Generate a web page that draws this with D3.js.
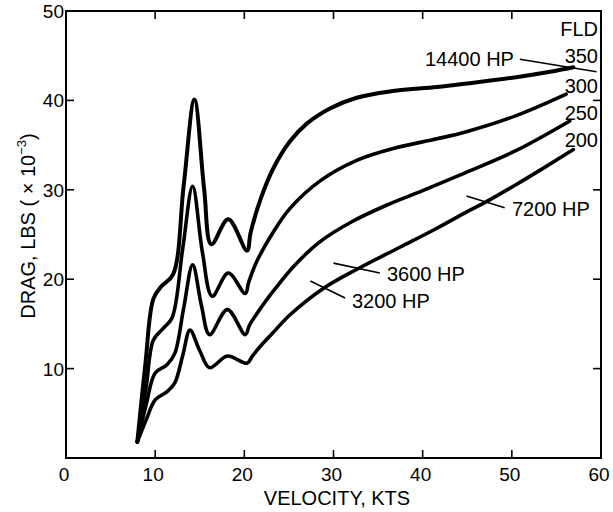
<!DOCTYPE html>
<html>
<head>
<meta charset="utf-8">
<script src="https://cdn.jsdelivr.net/npm/d3@7"></script>
<style>
  html, body { margin: 0; padding: 0; background: #fff; }
  svg { display: block; font-family: "Liberation Sans", Arial, Helvetica, sans-serif; }
</style>
</head>
<body>
<svg id="chart" width="613" height="512"></svg>
<script>
// ---- data (velocity kts, drag lbs x 10^-3) ----
const xTicks = [0, 10, 20, 30, 40, 50, 60];
const yTicks = [10, 20, 30, 40, 50];
const fldLabels = ["350", "300", "250", "200"];
const hpLabels = ["14400 HP", "7200 HP", "3600 HP", "3200 HP"];

const curve350 = [[8,1.8],[8.9,10.5],[9.8,17.8],[10.7,19.2],[12.0,20.5],[13.2,30.5],[14.4,40.1],[15.5,30],[16.3,23.9],[18.2,26.7],[20.3,23.2],[20.7,25.2],[21.8,28.9],[23.2,32.3],[25.1,35.4],[27.0,37.4],[29.6,39.1],[32.6,40.3],[36.3,41.0],[41.6,41.5],[45.0,41.9],[50.5,42.6],[54.3,43.2],[56.9,43.7]];
const curve300 = [[8,1.8],[9.0,8.0],[9.8,13.2],[10.9,14.5],[11.9,15.7],[13.1,23.5],[14.2,30.4],[15.3,23.0],[16.4,18.1],[18.2,20.7],[20.1,18.4],[20.5,19.7],[21.4,22.0],[23.2,25.2],[25.1,27.9],[28.5,31.0],[32.6,33.3],[37.0,34.7],[41.6,35.7],[44.9,36.5],[50.5,38.3],[56.1,40.7]];
const curve250 = [[8,1.8],[9.0,6.0],[10.0,9.5],[11.3,10.4],[12.2,11.7],[13.2,16.8],[14.2,21.6],[15.2,17.0],[16.1,13.8],[18.1,16.6],[20.1,13.8],[20.6,14.9],[22.0,17.0],[23.2,18.6],[25.5,21.4],[28.5,24.2],[32.0,26.4],[36.0,28.3],[40.0,29.9],[45.0,32.0],[50.5,34.4],[56.5,37.7]];
const curve200 = [[8,1.8],[9.0,4.3],[10.0,6.5],[11.3,7.4],[12.2,8.4],[13.1,11.5],[13.9,14.3],[15.0,12.0],[16.1,10.1],[18.1,11.4],[20.3,10.6],[20.9,11.4],[21.8,12.5],[23.2,14.0],[25.1,16.0],[28.9,19.0],[32.8,21.2],[37.5,23.6],[41.6,25.7],[44.9,27.5],[47.2,28.7],[50.5,30.6],[53.5,32.4],[56.9,34.5]];

// ---- layout ----
const svg = d3.select("#chart");
const x = d3.scaleLinear().domain([0, 60]).range([66, 601]);
const y = d3.scaleLinear().domain([0, 50]).range([458, 11]);
const FONT = 20;

// frame
svg.append("rect")
  .attr("x", x(0)).attr("y", y(50))
  .attr("width", x(60) - x(0)).attr("height", y(0) - y(50))
  .attr("fill", "none").attr("stroke", "#000").attr("stroke-width", 2);

// inward ticks
const tickLen = 8;
const innerX = xTicks.filter(d => d > 0 && d < 60);
const innerY = yTicks.filter(d => d < 50);
const tk = svg.append("g").attr("stroke", "#000").attr("stroke-width", 1.6);
innerX.forEach(d => {
  tk.append("line").attr("x1", x(d)).attr("x2", x(d)).attr("y1", y(0)).attr("y2", y(0) - tickLen);
  tk.append("line").attr("x1", x(d)).attr("x2", x(d)).attr("y1", y(50)).attr("y2", y(50) + tickLen);
});
innerY.forEach(d => {
  tk.append("line").attr("x1", x(0)).attr("x2", x(0) + tickLen).attr("y1", y(d)).attr("y2", y(d));
  tk.append("line").attr("x1", x(60)).attr("x2", x(60) - tickLen).attr("y1", y(d)).attr("y2", y(d));
});

// tick labels
svg.append("g").selectAll("text").data(xTicks).join("text")
  .attr("x", d => x(d) - 2).attr("y", y(0) + 23)
  .attr("text-anchor", "middle").attr("font-size", 19).text(d => d);
svg.append("g").selectAll("text").data(yTicks).join("text")
  .attr("x", x(0) - 2).attr("y", d => y(d) + 7)
  .attr("text-anchor", "end").attr("font-size", 19).text(d => d);

// axis titles
svg.append("text").attr("x", 337).attr("y", 505)
  .attr("text-anchor", "middle").attr("font-size", FONT).text("VELOCITY, KTS");
const yt = svg.append("text")
  .attr("transform", "translate(35,226) rotate(-90)")
  .attr("text-anchor", "middle").attr("font-size", FONT);
yt.append("tspan").text("DRAG, LBS ( \u00d7 10");
yt.append("tspan").attr("font-size", 13).attr("dy", -9).text("\u22123");
yt.append("tspan").attr("dy", 9).text(")");

// curves
const line = d3.line().x(d => x(d[0])).y(d => y(d[1])).curve(d3.curveCatmullRom.alpha(0.5));
const curves = [curve350, curve300, curve250, curve200];
svg.append("g").selectAll("path").data(curves).join("path")
  .attr("d", line).attr("fill", "none").attr("stroke", "#000")
  .attr("stroke-width", (d, i) => i === 0 ? 4 : 3.6)
  .attr("stroke-linejoin", "round").attr("stroke-linecap", "round");

// FLD labels
svg.append("text").attr("x", x(60) - 3).attr("y", 36)
  .attr("text-anchor", "end").attr("font-size", FONT).text("FLD");
const fldY = [63, 93, 120, 147];
svg.append("g").selectAll("text").data(fldLabels).join("text")
  .attr("x", x(60) - 3).attr("y", (d, i) => fldY[i])
  .attr("text-anchor", "end").attr("font-size", FONT).text(d => d);

// HP annotations with leader lines (data coordinates)
const leaders = [
  [[50.9, 44.6], [59.5, 43.2]],
  [[44.9, 29.3], [49.2, 28.0]],
  [[30.0, 21.8], [35.2, 20.7]],
  [[27.4, 19.8], [31.3, 17.9]]
];
svg.append("g").selectAll("line").data(leaders).join("line")
  .attr("x1", d => x(d[0][0])).attr("y1", d => y(d[0][1]))
  .attr("x2", d => x(d[1][0])).attr("y2", d => y(d[1][1]))
  .attr("stroke", "#000").attr("stroke-width", 1.6);
const hpPos = [[425, 66], [512, 216], [387, 281], [352, 308]];
svg.append("g").selectAll("text").data(hpLabels).join("text")
  .attr("x", (d, i) => hpPos[i][0]).attr("y", (d, i) => hpPos[i][1])
  .attr("font-size", FONT).text(d => d);
</script>
</body>
</html>
